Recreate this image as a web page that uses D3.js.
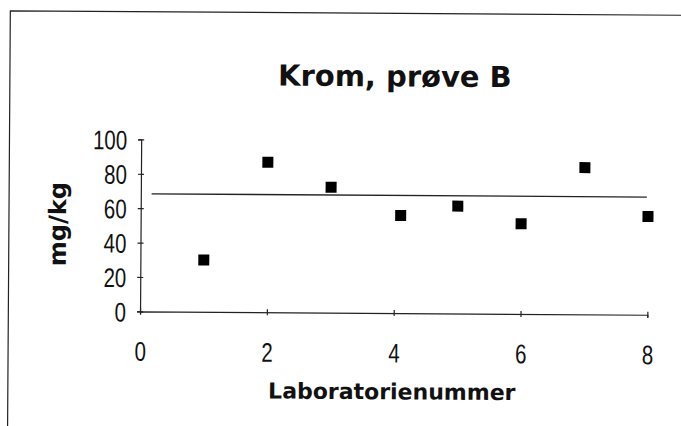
<!DOCTYPE html>
<html>
<head>
<meta charset="utf-8">
<script src="https://cdn.jsdelivr.net/npm/d3@7"></script>
<style>
  body { margin: 0; background: #fff; }
  svg { display: block; }
</style>
</head>
<body>
<svg></svg>
<script>
// lab numbers and measured chromium (mg/kg)
const labNr = [1, 2, 3, 4.1, 5, 6, 7, 8]
const krom = [30.1, 87.2, 72.9, 56.7, 62.4, 52.4, 85.3, 57.1]
// reference level drawn as a flat line
const refX = [0.17, 7.98]
const refValue = 68.4
const xTicks = [0, 2, 4, 6, 8]
const yTicks = [0, 20, 40, 60, 80, 100]

const width = 681
const height = 426

const svg = d3.select('svg')
  .attr('width', width)
  .attr('height', height)

// the scanned page is a little tilted
const page = svg.append('g')
  .attr('transform', 'rotate(0.38, 340, 213)')

// frame of the chart, only top and left edge are inside the picture
page.append('path')
  .attr('d', 'M9,700 L9,13 L900,13')
  .attr('fill', 'none')
  .attr('stroke', '#222')
  .attr('stroke-width', 1.2)

const margin = {left: 140.7, right: 648, top: 140.7, bottom: 312.7}

const x = d3.scaleLinear().domain([0, 8]).range([margin.left, margin.right])
const y = d3.scaleLinear().domain([0, 100]).range([margin.bottom, margin.top])

const numFont = '"Liberation Sans", Arial, sans-serif'
const boldFont = '"DejaVu Sans", Verdana, sans-serif'

var xAxis = page.append('g')
  .attr('transform', 'translate(0,' + margin.bottom + ')')
  .call(d3.axisBottom(x).tickValues(xTicks).tickSize(3).tickPadding(0).tickFormat(d3.format('d')))

var yAxis = page.append('g')
  .attr('transform', 'translate(' + margin.left + ',0)')
  .call(d3.axisLeft(y).tickValues(yTicks).tickSize(3).tickPadding(0).tickFormat(d3.format('d')))

// ticks cross the axis line
xAxis.selectAll('.tick line').attr('y1', -3).attr('y2', 3)
yAxis.selectAll('.tick line').attr('x1', -3).attr('x2', 3)

page.selectAll('.domain, .tick line')
  .attr('stroke', '#222')
  .attr('stroke-width', 1.2)

// narrow digits like the original font
xAxis.selectAll('.tick text')
  .attr('x', 0)
  .attr('y', 0)
  .attr('dy', '0.35em')
  .attr('transform', 'translate(0,40) scale(0.76,1)')
  .style('font-family', numFont)
  .style('font-size', '27px')
  .attr('fill', '#111')

yAxis.selectAll('.tick text')
  .attr('x', 0)
  .attr('dy', '0.36em')
  .attr('transform', 'translate(-14,0) scale(0.76,1)')
  .style('font-family', numFont)
  .style('font-size', '27px')
  .attr('fill', '#111')

// reference line
page.append('line')
  .attr('x1', x(refX[0]))
  .attr('x2', x(refX[1]))
  .attr('y1', y(refValue))
  .attr('y2', y(refValue))
  .attr('stroke', '#222')
  .attr('stroke-width', 1.3)

// square markers
const size = 11
page.append('g')
  .selectAll('rect')
  .data(labNr.map((d, i) => ({lab: d, value: krom[i]})))
  .enter().append('rect')
    .attr('x', d => x(d.lab) - size / 2)
    .attr('y', d => y(d.value) - size / 2)
    .attr('width', size)
    .attr('height', size)
    .attr('fill', '#000')

page.append('text')
  .attr('x', 394)
  .attr('y', 86)
  .attr('text-anchor', 'middle')
  .style('font-family', boldFont)
  .style('font-weight', 'bold')
  .style('font-size', '29px')
  .attr('fill', '#111')
  .text('Krom, prøve B')

page.append('text')
  .attr('x', 393)
  .attr('y', 399)
  .attr('text-anchor', 'middle')
  .style('font-family', boldFont)
  .style('font-weight', 'bold')
  .style('font-size', '22px')
  .attr('fill', '#111')
  .text('Laboratorienummer')

page.append('text')
  .attr('transform', 'translate(66,226) rotate(-90)')
  .attr('text-anchor', 'middle')
  .style('font-family', boldFont)
  .style('font-weight', 'bold')
  .style('font-size', '24px')
  .attr('fill', '#111')
  .text('mg/kg')
</script>
</body>
</html>
